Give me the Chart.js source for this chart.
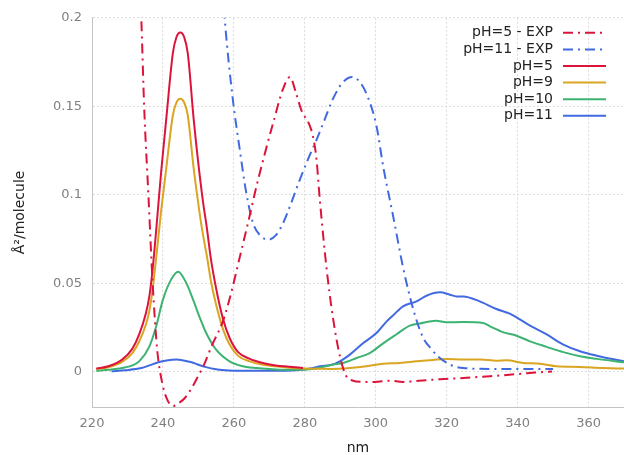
<!DOCTYPE html>
<html>
<head>
<meta charset="utf-8">
<script src="https://cdn.jsdelivr.net/npm/chart.js@4"></script>
<style>
  html, body { margin: 0; padding: 0; background: #fff; }
</style>
</head>
<body>
<canvas id="chart" width="624" height="455"></canvas>
<script>
// axis ticks
const xTicks = [220, 240, 260, 280, 300, 320, 340, 360];
const yTicks = [0, 0.05, 0.1, 0.15, 0.2];

// pH=5 - EXP
const exp5Nm = [232.8, 233.9, 234.7, 235.9, 237.1, 238.4, 239.6, 241.0, 242.9, 244.3, 246.2, 248.2, 249.9, 251.6, 253.7, 257.0, 259.3, 261.7, 264.1, 266.4, 268.7, 271.0, 273.9, 275.8, 277.6, 279.0, 281.4, 282.3, 283.3, 284.2, 286.1, 287.9, 289.9, 291.7, 293.4, 296.4, 299.7, 303.9, 307.7, 312.2, 318.1, 324.7, 332.2, 336.9, 341.6, 344.9, 349.7];
const exp5Val = [0.26, 0.2, 0.15, 0.1, 0.05, 0.012, -0.0045, -0.0149, -0.0195, -0.018, -0.0149, -0.009, -0.0026, 0.004, 0.0143, 0.029, 0.045, 0.065, 0.085, 0.105, 0.123, 0.14, 0.16, 0.1665, 0.157, 0.148, 0.139, 0.133, 0.12, 0.098, 0.059, 0.031, 0.0087, -0.0026, -0.005, -0.0058, -0.0058, -0.0051, -0.0058, -0.0052, -0.0043, -0.0036, -0.0026, -0.0019, -0.0011, -0.0005, 0.0];

// pH=11 - EXP
const exp11Nm = [256.4, 257.4, 259.7, 261.7, 263.5, 265.4, 267.4, 269.7, 271.8, 273.9, 276.1, 278.5, 280.9, 283.3, 285.7, 287.9, 290.5, 293.4, 295.4, 297.4, 300.2, 302.1, 304.9, 307.7, 310.6, 313.4, 315.6, 317.5, 320.9, 324.7, 334.0, 343.5, 350.0];
const exp11Val = [0.23, 0.2, 0.154, 0.125, 0.101, 0.084, 0.077, 0.0746, 0.077, 0.084, 0.095, 0.108, 0.12, 0.131, 0.143, 0.154, 0.163, 0.1665, 0.164, 0.157, 0.139, 0.116, 0.088, 0.059, 0.035, 0.019, 0.013, 0.0087, 0.004, 0.002, 0.0015, 0.0015, 0.0015];

// pH=5
const ph5Nm = [221.2, 224.6, 228.5, 231.4, 233.3, 235.2, 236.2, 237.1, 238.1, 239.5, 240.9, 242.8, 243.8, 244.9, 246.0, 247.0, 248.7, 250.3, 251.3, 252.4, 253.5, 255.0, 256.9, 258.8, 261.2, 264.5, 267.9, 271.8, 275.6, 279.5];
const ph5Val = [0.0017, 0.003, 0.0068, 0.013, 0.021, 0.033, 0.043, 0.058, 0.08, 0.113, 0.142, 0.18, 0.189, 0.1917, 0.189, 0.18, 0.142, 0.112, 0.096, 0.081, 0.064, 0.047, 0.03, 0.019, 0.011, 0.0072, 0.005, 0.0035, 0.0028, 0.002];

// pH=9
const ph9Nm = [221.2, 224.6, 228.5, 231.4, 233.3, 235.2, 236.2, 237.1, 238.1, 239.5, 240.9, 242.8, 243.8, 244.9, 246.0, 247.0, 248.7, 250.3, 251.3, 252.4, 253.5, 255.0, 256.9, 258.8, 261.2, 264.5, 267.9, 271.8, 275.6, 279.5, 283.3, 287.2, 292.7, 297.4, 302.1, 306.8, 311.5, 316.1, 319.9, 324.7, 329.5, 334.0, 336.9, 341.6, 346.3, 351.0, 357.4, 364.2, 370];
const ph9Val = [0.0015, 0.0025, 0.0055, 0.0105, 0.017, 0.0266, 0.0346, 0.0467, 0.0644, 0.091, 0.1143, 0.1449, 0.1521, 0.1543, 0.1521, 0.1449, 0.1143, 0.0902, 0.0773, 0.0652, 0.0515, 0.0378, 0.0242, 0.0153, 0.0089, 0.0058, 0.004, 0.003, 0.0022, 0.0017, 0.0016, 0.0015, 0.002, 0.003, 0.0045, 0.0049, 0.0058, 0.0066, 0.0072, 0.0068, 0.0068, 0.0062, 0.0064, 0.0049, 0.0045, 0.003, 0.0026, 0.002, 0.0017];

// pH=10
const ph10Nm = [221.2, 224.6, 228.5, 231.4, 233.3, 236.2, 238.1, 240.0, 242.3, 244.3, 246.6, 248.5, 250.3, 252.2, 255.0, 258.8, 262.2, 266.4, 271.8, 277.6, 283.3, 287.9, 290.7, 294.6, 298.3, 302.1, 305.8, 309.6, 312.4, 317.0, 319.9, 324.7, 330.3, 332.2, 336.0, 339.7, 343.5, 348.2, 352.9, 357.6, 362.3, 370];
const ph10Val = [0.0005, 0.001, 0.002, 0.0035, 0.0058, 0.0143, 0.0256, 0.0407, 0.052, 0.0565, 0.05, 0.0407, 0.031, 0.0218, 0.0124, 0.0058, 0.0032, 0.002, 0.0012, 0.001, 0.0018, 0.004, 0.0049, 0.0077, 0.0105, 0.016, 0.021, 0.026, 0.0272, 0.0288, 0.0279, 0.028, 0.0275, 0.0256, 0.0222, 0.0203, 0.0171, 0.014, 0.011, 0.0087, 0.0072, 0.0053];

// pH=11
const ph11Nm = [225.5, 229.4, 233.9, 236.2, 238.7, 241.0, 243.9, 245.8, 248.1, 249.6, 251.9, 254.5, 257.5, 263.1, 269.9, 277.6, 281.4, 284.3, 287.9, 290.7, 292.7, 296.4, 300.2, 303.1, 305.0, 307.7, 311.5, 314.3, 318.1, 320.9, 322.8, 324.7, 329.3, 334.0, 337.8, 343.5, 348.2, 352.9, 357.6, 362.3, 370];
const ph11Val = [0.0002, 0.0008, 0.002, 0.0035, 0.0053, 0.0063, 0.0068, 0.0063, 0.0053, 0.0042, 0.0027, 0.0015, 0.0008, 0.0005, 0.0005, 0.0008, 0.0018, 0.003, 0.004, 0.0068, 0.0096, 0.016, 0.0218, 0.0284, 0.032, 0.0369, 0.0397, 0.0429, 0.0448, 0.0435, 0.0425, 0.0425, 0.0397, 0.0354, 0.0328, 0.026, 0.021, 0.0153, 0.0115, 0.009, 0.0058];

const toPoints = (xs, ys) => xs.map((x, i) => ({ x: x, y: ys[i] }));

const dashDot = [10, 5, 2, 5];

function series(label, xs, ys, color, dash) {
    return {
        label: label,
        data: toPoints(xs, ys),
        borderColor: color,
        backgroundColor: color,
        borderWidth: 2,
        borderDash: dash || [],
        pointRadius: 0,
        fill: false,
        cubicInterpolationMode: 'monotone'
    };
}

// legend drawn inside the plot, text right-aligned with the line sample after it
const insideLegend = {
    id: 'insideLegend',
    afterDraw(chart) {
        const { ctx, chartArea } = chart;
        ctx.save();
        ctx.font = '14px "DejaVu Sans"';
        ctx.textAlign = 'right';
        ctx.textBaseline = 'middle';
        chart.data.datasets.forEach((ds, i) => {
            const y = chartArea.top + 15 + i * 16.6;
            ctx.fillStyle = '#222';
            ctx.fillText(ds.label, chartArea.right - 71, y);
            ctx.strokeStyle = ds.borderColor;
            ctx.lineWidth = 2;
            ctx.setLineDash(ds.borderDash);
            ctx.beginPath();
            ctx.moveTo(chartArea.right - 61, y);
            ctx.lineTo(chartArea.right - 18, y);
            ctx.stroke();
        });
        ctx.restore();
    }
};

const gridStyle = { color: '#dcdcdc', lineWidth: 1, drawTicks: false };
const axisBorder = { display: true, color: '#c4c4c4', width: 1, dash: [2, 2] };

new Chart(document.getElementById('chart'), {
    type: 'line',
    plugins: [insideLegend],
    data: {
        datasets: [
            series('pH=5 - EXP', exp5Nm, exp5Val, '#dc143c', dashDot),
            series('pH=11 - EXP', exp11Nm, exp11Val, '#4169e1', dashDot),
            series('pH=5', ph5Nm, ph5Val, '#dc143c'),
            series('pH=9', ph9Nm, ph9Val, '#daa520'),
            series('pH=10', ph10Nm, ph10Val, '#3cb371'),
            series('pH=11', ph11Nm, ph11Val, '#4169e1')
        ]
    },
    options: {
        responsive: false,
        animation: false,
        layout: { padding: { top: 17, right: 0, left: 0, bottom: 0 } },
        scales: {
            x: {
                type: 'linear',
                min: 220,
                max: 370,
                afterBuildTicks: scale => { scale.ticks = xTicks.map(v => ({ value: v })); },
                afterFit: scale => { scale.height = 48; },
                grid: Object.assign({}, gridStyle),
                border: Object.assign({}, axisBorder),
                ticks: {
                    color: '#808080',
                    padding: 9,
                    font: { family: 'DejaVu Sans', size: 13 },
                    maxRotation: 0
                },
                title: {
                    display: true,
                    text: 'nm',
                    color: '#222',
                    font: { family: 'DejaVu Sans', size: 14 },
                    padding: { top: 0, bottom: -2 }
                }
            },
            y: {
                type: 'linear',
                min: -0.02,
                max: 0.2,
                afterBuildTicks: scale => { scale.ticks = yTicks.map(v => ({ value: v })); },
                afterFit: scale => { scale.width = 92; },
                grid: Object.assign({}, gridStyle),
                border: Object.assign({}, axisBorder),
                ticks: {
                    color: '#808080',
                    padding: 10,
                    font: { family: 'DejaVu Sans', size: 13 },
                    callback: v => String(v)
                },
                title: {
                    display: true,
                    text: 'Å²/molecule',
                    color: '#222',
                    font: { family: 'DejaVu Sans', size: 14 },
                    padding: { top: 12, bottom: 0 }
                }
            }
        },
        plugins: {
            legend: { display: false },
            tooltip: { enabled: false }
        }
    }
});
</script>
</body>
</html>
